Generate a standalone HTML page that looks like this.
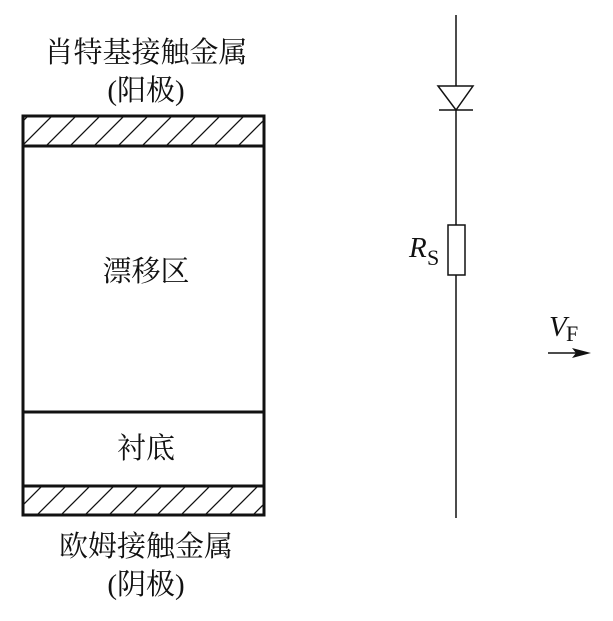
<!DOCTYPE html>
<html><head><meta charset="utf-8"><style>
body{margin:0;background:#fff;width:613px;height:616px;overflow:hidden}
svg text{font-family:"Liberation Serif","Noto Serif CJK SC",serif;fill:#111}
</style></head><body>
<svg width="613" height="616" xmlns="http://www.w3.org/2000/svg">
<defs>
<pattern id="h" patternUnits="userSpaceOnUse" width="24" height="24" x="0" y="0">
<path d="M-6,30 L30,-6 M-30,30 L30,-30 M6,42 L42,6" stroke="#111" stroke-width="1.3"/>
</pattern>
</defs>
<rect x="23" y="116" width="241" height="30" fill="url(#h)"/>
<rect x="23" y="486" width="241" height="29" fill="url(#h)"/>
<rect x="23" y="116" width="241" height="399" fill="none" stroke="#111" stroke-width="3"/>
<line x1="23" y1="146" x2="264" y2="146" stroke="#111" stroke-width="3"/>
<line x1="23" y1="412" x2="264" y2="412" stroke="#111" stroke-width="3"/>
<line x1="23" y1="486" x2="264" y2="486" stroke="#111" stroke-width="3"/>
<text x="146" y="62" font-size="29" text-anchor="middle">肖特基接触金属</text>
<text x="146" y="100" font-size="29" text-anchor="middle">(阳极)</text>
<text x="146" y="281" font-size="29" text-anchor="middle">漂移区</text>
<text x="146" y="458" font-size="29" text-anchor="middle">衬底</text>
<text x="146" y="556" font-size="29" text-anchor="middle">欧姆接触金属</text>
<text x="146" y="594" font-size="29" text-anchor="middle">(阴极)</text>
<line x1="456" y1="15" x2="456" y2="518" stroke="#111" stroke-width="1.5"/>
<polygon points="438,86 473,86 456,110" fill="#fff" stroke="#111" stroke-width="1.5"/>
<line x1="439" y1="110" x2="473" y2="110" stroke="#111" stroke-width="1.5"/>
<rect x="448" y="225" width="17" height="50" fill="#fff" stroke="#111" stroke-width="1.5"/>
<text x="409" y="257" font-size="29" font-style="italic">R</text>
<text x="427" y="265" font-size="22">S</text>
<text x="549" y="336" font-size="29" font-style="italic">V</text>
<text x="566" y="341" font-size="22">F</text>
<line x1="548" y1="353" x2="582" y2="353" stroke="#111" stroke-width="1.5"/>
<polygon points="591,353 572,348 576,353 572,358" fill="#111"/>
</svg>
</body></html>
